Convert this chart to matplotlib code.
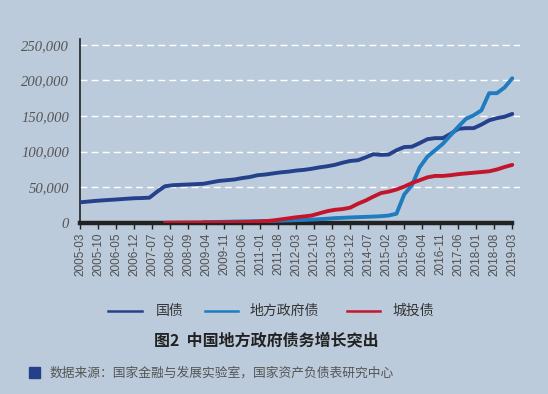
import matplotlib
matplotlib.use("Agg")
import matplotlib.pyplot as plt
from matplotlib.lines import Line2D
from matplotlib.patches import Rectangle

plt.rcParams['font.family'] = ['Noto Sans CJK SC', 'DejaVu Sans']

# months since 2005-03
def month_index(s):
    y, m = s.split('-')
    return (int(y) - 2005) * 12 + int(m) - 3

tick_labels = ['2005-03', '2005-10', '2006-05', '2006-12', '2007-07', '2008-02', '2008-09',
               '2009-04', '2009-11', '2010-06', '2011-01', '2011-08', '2012-03', '2012-10',
               '2013-05', '2013-12', '2014-07', '2015-02', '2015-09', '2016-04', '2016-11',
               '2017-06', '2018-01', '2018-08', '2019-03']

quarters = [f"{y}-{m:02d}" for y in range(2005, 2020) for m in (3, 6, 9, 12)]
quarters = [q for q in quarters if month_index(q) <= 168]

guozhai = [29000, 30000, 31000, 31800, 32500, 33200, 34000, 34700, 35000, 35500,
           44000, 51500, 53000, 53500, 54000, 54500, 55000, 57000, 59000, 60000,
           61000, 63000, 64500, 67000, 68000, 69500, 71000, 72000, 73500, 74500,
           76000, 78000, 79500, 81500, 84500, 87000, 88000, 92000, 96500, 95500,
           96000, 102000, 106500, 107000, 112000, 117500, 119000, 119000, 125000, 132000,
           133000, 133000, 138000, 144000, 147000, 149000, 153000]

difang_start = '2009-03'
difang = [1000, 1200, 1500, 1700, 2000, 2200, 2400, 2600, 2800, 3000,
          3300, 3600, 4000, 4300, 4800, 5300, 6000, 6800, 7300, 7800,
          8200, 8600, 9000, 9500, 10500, 13000, 40000, 53000, 78000, 93000,
          102000, 111000, 123000, 135000, 146000, 151000, 158000, 182000, 182000, 190000,
          203000]

chengtou_start = '2007-12'
chengtou = [300, 400, 500, 600, 700, 800, 900, 1000, 1100, 1200,
            1300, 1500, 2000, 2600, 3500, 5000, 6500, 8000, 9200, 10500,
            13500, 16500, 18500, 19500, 21500, 27000, 31500, 37000, 42000, 44000,
            47000, 51000, 56000, 60000, 64000, 66000, 66000, 67000, 68500, 69500,
            70500, 71500, 72500, 75000, 78500, 81500]

series_names = ['国债', '地方政府债', '城投债']
colors = ['#26418c', '#1f7cc0', '#c3162c']

bg = '#bccbdb'
fig = plt.figure(figsize=(5.48, 3.94), dpi=100, facecolor=bg)
ax = fig.add_axes([80/548, 1-223/394, 440/548, 184/394], facecolor=bg)

x_all = [month_index(q) for q in quarters]
i_d = quarters.index(difang_start)
i_c = quarters.index(chengtou_start)

ax.plot(x_all, guozhai, color=colors[0], lw=2.8, solid_capstyle='round', zorder=3)
ax.plot(x_all[i_d:i_d+len(difang)], difang, color=colors[1], lw=2.8, solid_capstyle='round', zorder=4)
ax.plot(x_all[i_c:i_c+len(chengtou)], chengtou, color=colors[2], lw=2.8, solid_capstyle='round', zorder=5)

ax.set_xlim(0, 171)
ax.set_ylim(0, 258000)
ax.set_yticks([0, 50000, 100000, 150000, 200000, 250000])
ax.set_yticklabels(['0', '50,000', '100,000', '150,000', '200,000', '250,000'],
                   family='Liberation Serif', style='italic', fontsize=10.5, color='#555555')
for yv in [50000, 100000, 150000, 200000, 250000]:
    ax.axhline(yv, color='white', lw=1.0, dashes=(5, 3), zorder=1)

ticks = [month_index(t) for t in tick_labels]
ax.set_xticks(ticks)
ax.set_xticklabels(tick_labels, rotation=90, family='Liberation Sans', fontsize=8.5, color='#505050')
ax.tick_params(axis='x', length=4, width=1, color='#222222', pad=3)
ax.tick_params(axis='y', length=0, pad=8)

for s in ['top', 'right']:
    ax.spines[s].set_visible(False)
ax.spines['left'].set_color('#222222')
ax.spines['left'].set_linewidth(1.2)
ax.spines['bottom'].set_color('#222222')
ax.spines['bottom'].set_linewidth(3.2)
ax.spines['bottom'].set_bounds(0, 168)
ax.spines['bottom'].set_zorder(2)

# legend
leg_y = 1 - 311/394
lx = [(108, 142, 156), (205, 238, 250), (347, 380, 392)]
for (a, b, t), name, c in zip(lx, series_names, colors):
    fig.add_artist(Line2D([a/548, b/548], [leg_y, leg_y], color=c, lw=1.8))
    fig.text(t/548, leg_y, name, fontsize=10, color='#333333', va='center', ha='left')

fig.text(266/548, 1 - 340/394, '图2  中国地方政府债务增长突出', fontsize=11.5, fontweight='bold',
         color='#222222', ha='center', va='center')

fig.add_artist(Rectangle((29/548, 1 - 378/394), 11/548, 11/394, color='#24408a'))
fig.text(50/548, 1 - 373/394, '数据来源：国家金融与发展实验室，国家资产负债表研究中心', fontsize=9.2,
         color='#555555', ha='left', va='center')

fig.savefig('out.png', dpi=100, facecolor=bg)
